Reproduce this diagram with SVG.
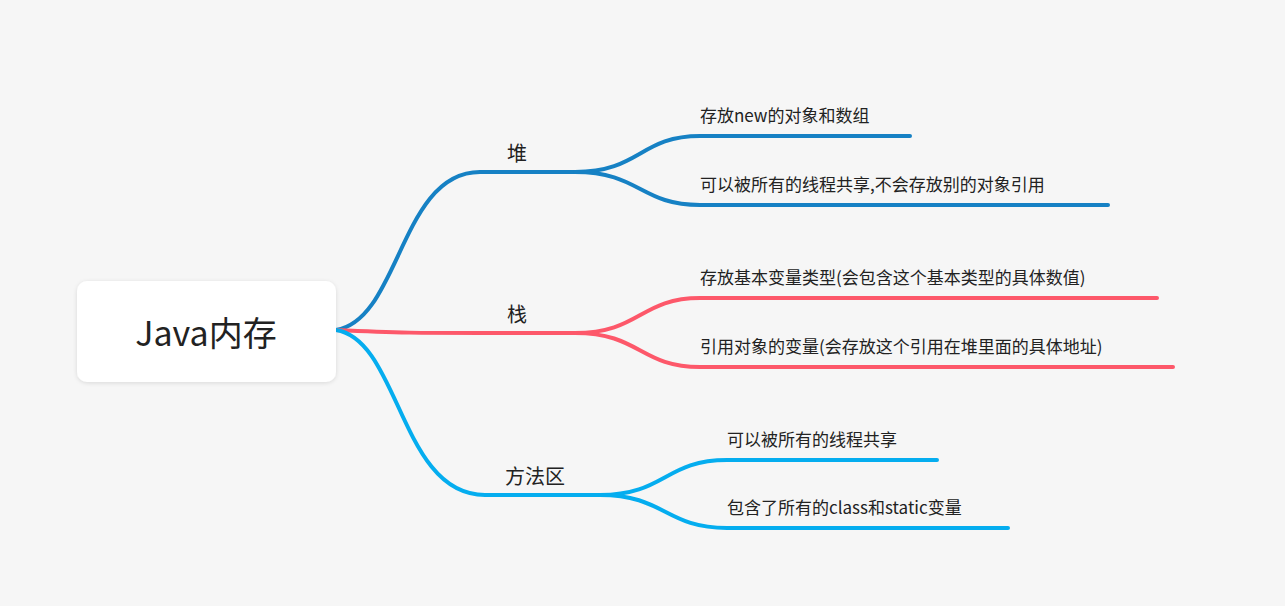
<svg xmlns="http://www.w3.org/2000/svg" width="1285" height="606" viewBox="0 0 1285 606">
<defs><filter id="sh" x="-10%" y="-10%" width="120%" height="130%"><feDropShadow dx="0" dy="1" stdDeviation="2" flood-color="#000" flood-opacity="0.12"/></filter></defs>
<style>
text{font-family:"Noto Sans CJK SC","Noto Sans",sans-serif;fill:#222}
.l{fill:none;stroke-width:4;stroke-linecap:round}
.h{stroke:#1681c4}.s{stroke:#fd586a}.m{stroke:#05adef}
.t2{font-size:20px}.t3{font-size:17px}
</style>
<rect width="1285" height="606" fill="#f6f6f6"/>
<g id="connectors">
<path class="l h" d="M336,330 C400,320 400,172 480,172 L575,172"/>
<path class="l h" d="M575,172 C640,172 640,136 700,136 L910,136"/>
<path class="l h" d="M575,172 C640,172 640,205 700,205 L1108,205"/>
<path class="l s" d="M336,330 C400,333 420,333 480,333 L575,333"/>
<path class="l s" d="M575,333 C640,333 640,298 700,298 L1157,298"/>
<path class="l s" d="M575,333 C640,333 640,367 700,367 L1173,367"/>
<path class="l m" d="M336,330 C400,340 400,495 485,495 L600,495"/>
<path class="l m" d="M600,495 C665,495 665,460 727,460 L937,460"/>
<path class="l m" d="M600,495 C665,495 665,528 727,528 L1008,528"/>
</g>
<g id="root"><rect x="77" y="281" width="259" height="101" rx="10" fill="#fff" filter="url(#sh)"/><text x="206" y="346" font-size="34" text-anchor="middle">Java内存</text></g>
<g id="heap"><text class="t2" x="507" y="161">堆</text></g>
<g id="stack"><text class="t2" x="507" y="322">栈</text></g>
<g id="method"><text class="t2" x="505" y="484">方法区</text></g>
<g id="h1"><text class="t3" x="700" y="122">存放new的对象和数组</text></g>
<g id="h2"><text class="t3" x="700" y="191">可以被所有的线程共享,不会存放别的对象引用</text></g>
<g id="s1"><text class="t3" x="700" y="284">存放基本变量类型(会包含这个基本类型的具体数值)</text></g>
<g id="s2"><text class="t3" x="700" y="353">引用对象的变量(会存放这个引用在堆里面的具体地址)</text></g>
<g id="m1"><text class="t3" x="727" y="446">可以被所有的线程共享</text></g>
<g id="m2"><text class="t3" x="727" y="514">包含了所有的class和static变量</text></g>
</svg>
